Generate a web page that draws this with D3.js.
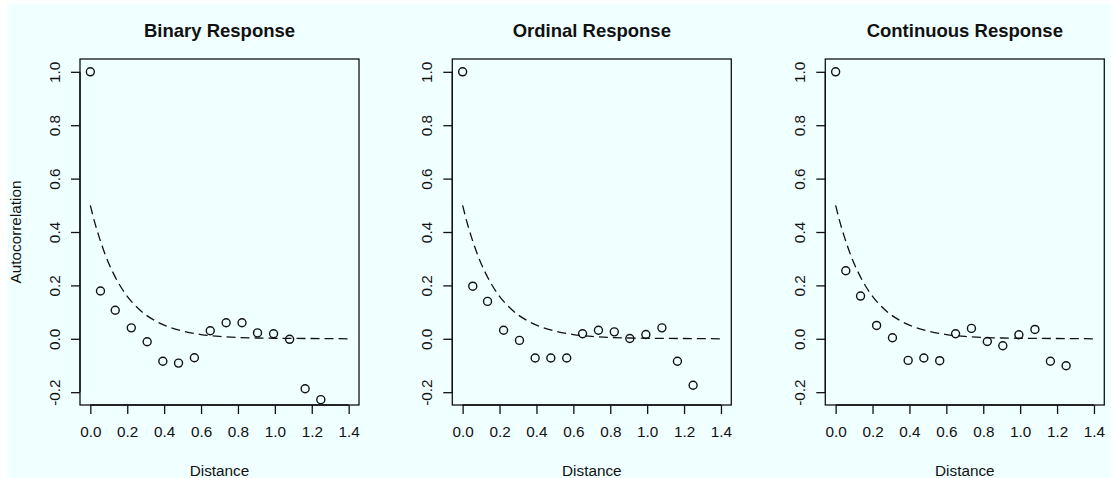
<!DOCTYPE html>
<html>
<head>
<meta charset="utf-8">
<script src="https://cdn.jsdelivr.net/npm/d3@7"></script>
<style>
  html, body { margin: 0; padding: 0; background: #ffffff; }
  svg { display: block; font-family: "Liberation Sans", Arial, sans-serif; }
</style>
</head>
<body>
<svg id="chart" width="1111" height="478"></svg>
<script>
// ---- data ----
const titles = ["Binary Response", "Ordinal Response", "Continuous Response"];
const distances = [0, 0.055, 0.135, 0.222, 0.308, 0.393, 0.478, 0.564, 0.650, 0.736, 0.822, 0.906, 0.993, 1.080, 1.164, 1.249];
const binaryAC = [1.0, 0.179, 0.107, 0.041, -0.011, -0.084, -0.091, -0.071, 0.030, 0.060, 0.060, 0.022, 0.019, -0.002, -0.187, -0.228];
const ordinalAC = [1.0, 0.197, 0.140, 0.032, -0.006, -0.072, -0.072, -0.072, 0.019, 0.032, 0.026, 0.001, 0.016, 0.041, -0.084, -0.174];
const continuousAC = [1.0, 0.255, 0.160, 0.050, 0.004, -0.081, -0.072, -0.082, 0.019, 0.039, -0.010, -0.026, 0.015, 0.035, -0.084, -0.101];
// dashed model curve
const curveX = [0, 0.025, 0.05, 0.075, 0.1, 0.125, 0.15, 0.2, 0.25, 0.3, 0.35, 0.4, 0.5, 0.6, 0.7, 0.8, 0.9, 1.0, 1.2, 1.4];
const curveY = [0.5, 0.433, 0.376, 0.326, 0.282, 0.245, 0.212, 0.159, 0.120, 0.090, 0.068, 0.051, 0.029, 0.016, 0.009, 0.005, 0.003, 0.002, 0.001, 0.0];
const xTicks = [0, 0.2, 0.4, 0.6, 0.8, 1.0, 1.2, 1.4];
const yTicks = [-0.2, 0, 0.2, 0.4, 0.6, 0.8, 1.0];
const xLabel = "Distance";
const yLabel = "Autocorrelation";

const seriesList = [binaryAC, ordinalAC, continuousAC];

// ---- layout ----
const svg = d3.select("#chart");
svg.append("rect").attr("x", 7).attr("y", 4).attr("width", 1104).attr("height", 474).attr("fill", "#F0FFFF");

const panelLeft = [80, 452.3, 825.3];
const panelWidth = 279;
const boxTop = 59, boxBottom = 405;
const xlim = [0, 1.4], ylim = [-0.2, 1.0];
const xExt = (xlim[1] - xlim[0]) * 0.04, yExt = (ylim[1] - ylim[0]) * 0.04;
const ink = "#111";
const fs = 15.3;
const fmt = d => d3.format(".1f")(d).replace("\u2212", "-");

seriesList.forEach((vals, i) => {
  const L = panelLeft[i], R = L + panelWidth;
  const x = d3.scaleLinear().domain([xlim[0] - xExt, xlim[1] + xExt]).range([L, R]);
  const y = d3.scaleLinear().domain([ylim[0] - yExt, ylim[1] + yExt]).range([boxBottom, boxTop]);
  const g = svg.append("g");

  // title
  g.append("text").attr("x", (L + R) / 2).attr("y", 37).attr("text-anchor", "middle")
    .attr("font-size", 18.5).attr("font-weight", "bold").attr("fill", ink).text(titles[i]);

  // x axis
  const xa = g.append("g").attr("transform", `translate(0,${boxBottom})`)
    .call(d3.axisBottom(x).tickValues(xTicks).tickSize(9).tickPadding(12).tickFormat(fmt));
  xa.select(".domain").attr("d", `M${x(xlim[0])},0H${x(xlim[1])}`).attr("stroke", ink).attr("stroke-width", 1.3);
  xa.selectAll(".tick line").attr("stroke", ink).attr("stroke-width", 1.3);
  xa.selectAll(".tick text").attr("font-size", fs).attr("fill", ink).attr("font-family", "Liberation Sans, Arial, sans-serif");

  // y axis
  const ya = g.append("g").attr("transform", `translate(${L},0)`)
    .call(d3.axisLeft(y).tickValues(yTicks).tickSize(9).tickPadding(0).tickFormat(fmt));
  ya.select(".domain").attr("d", `M0,${y(ylim[0])}V${y(ylim[1])}`).attr("stroke", ink).attr("stroke-width", 1.3);
  ya.selectAll(".tick line").attr("stroke", ink).attr("stroke-width", 1.3);
  ya.selectAll(".tick text")
    .attr("x", null).attr("dy", null)
    .attr("transform", "translate(-20,0) rotate(-90)")
    .attr("text-anchor", "middle")
    .attr("font-size", fs).attr("fill", ink).attr("font-family", "Liberation Sans, Arial, sans-serif");

  // box
  g.append("rect").attr("x", L).attr("y", boxTop).attr("width", R - L).attr("height", boxBottom - boxTop)
    .attr("fill", "none").attr("stroke", ink).attr("stroke-width", 1.3);

  // dashed curve
  const line = d3.line().x(d => x(d[0])).y(d => y(d[1])).curve(d3.curveMonotoneX);
  g.append("path").datum(d3.zip(curveX, curveY)).attr("d", line)
    .attr("fill", "none").attr("stroke", ink).attr("stroke-width", 1.3).attr("stroke-dasharray", "9,5");

  // points
  g.selectAll("circle.pt").data(d3.zip(distances, vals)).enter().append("circle")
    .attr("class", "pt").attr("cx", d => x(d[0])).attr("cy", d => y(d[1])).attr("r", 4)
    .attr("fill", "none").attr("stroke", ink).attr("stroke-width", 1.4);

  // x label
  g.append("text").attr("x", (L + R) / 2).attr("y", 476).attr("text-anchor", "middle")
    .attr("font-size", fs).attr("fill", ink).text(xLabel);

  if (i === 0) {
    g.append("text").attr("transform", `translate(21,${(boxTop + boxBottom) / 2}) rotate(-90)`)
      .attr("text-anchor", "middle").attr("font-size", fs).attr("fill", ink).text(yLabel);
  }
});
</script>
</body>
</html>
